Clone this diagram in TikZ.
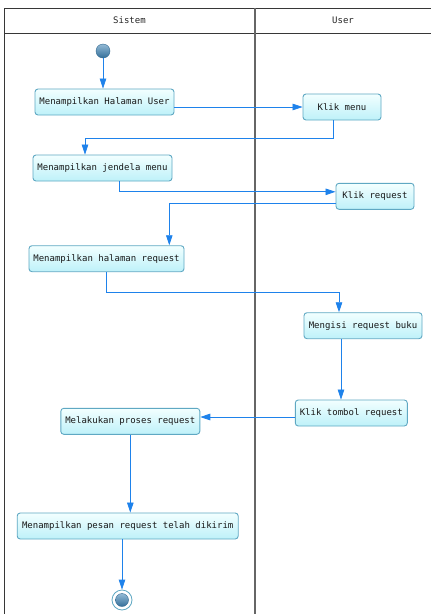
\documentclass[tikz,border=0pt]{standalone}
\usepackage{fontspec}
\setmainfont{DejaVu Sans Mono}
\usetikzlibrary{arrows.meta}
\usetikzlibrary{positioning}

\definecolor{flowblue}{RGB}{30,130,235}
\definecolor{actborder}{RGB}{95,168,195}
\definecolor{acttop}{RGB}{242,255,255}
\definecolor{actbottom}{RGB}{190,241,249}
\definecolor{lanegray}{RGB}{55,55,55}
\definecolor{nodeblue}{RGB}{60,130,180}

\tikzset{
    activity/.style={
        rectangle, rounded corners=3pt,
        draw=actborder, line width=0.9pt,
        top color=acttop, bottom color=actbottom,
        minimum height=26pt, inner xsep=4pt,
        text=black!90, font=\fontsize{9}{10}\selectfont,
    },
    flow/.style={
        draw=flowblue, line width=0.8pt,
        -{Triangle[length=10pt,width=6.5pt]},
    },
    lane/.style={draw=lanegray, line width=0.8pt},
}

\begin{document}
\begin{tikzpicture}[x=1pt, y=-1pt]
        \useasboundingbox (0,0) rectangle (431,614);
        \fill[white] (0,0) rectangle (431,614);

        \draw[lane] (431,8) -- (4,8) -- (4,614);
        \draw[lane] (4,33) -- (431,33);
        \draw[lane, draw=gray!80!black, line width=1.3pt] (255,8) -- (255,614);

        \node (sistem) at(129.5,20.5) [
            font=\fontsize{9}{10}\selectfont, text=black!85,
        ] {Sistem};
        \node (user) at(343,20.5) [
            font=\fontsize{9}{10}\selectfont, text=black!85,
        ] {User};

        \node (start) at(103,51) [
            circle, minimum size=14pt, inner sep=0pt,
            top color=nodeblue!55, bottom color=nodeblue!85!black,
            draw=nodeblue!80!black, thin,
        ] {};

        \node (halamanuser) at(104.5,102) [
            activity, minimum width=139pt,
        ] {Menampilkan Halaman User};
        \node (klikmenu) at(342,107) [
            activity, minimum width=78pt,
        ] {Klik menu};
        \node (jendelamenu) at(102.5,168) [
            activity, minimum width=139pt,
        ] {Menampilkan jendela menu};
        \node (klikrequest) at(375,196.3) [
            activity, minimum width=78pt,
        ] {Klik request};
        \node (halamanrequest) at(106.5,258.7) [
            activity, minimum width=155pt,
        ] {Menampilkan halaman request};
        \node (mengisi) at(363,325.7) [
            activity, minimum width=118pt,
        ] {Mengisi request buku};
        \node (tombol) at(351.3,413) [
            activity, minimum width=112pt,
        ] {Klik tombol request};
        \node (proses) at(130.3,421.3) [
            activity, minimum width=139pt,
        ] {Melakukan proses request};
        \node (pesan) at(127.7,526) [
            activity, minimum width=221pt,
        ] {Menampilkan pesan request telah dikirim};

        \node (finish) at(122,600) [
            circle, minimum size=20pt, inner sep=0pt,
            draw=actborder, line width=0.8pt, fill=white,
        ] {};
        \node (finishdot) at(finish) [
            circle, minimum size=13pt, inner sep=0pt,
            top color=nodeblue!55, bottom color=nodeblue!85!black,
            draw=nodeblue!80!black, thin,
        ] {};

        \coordinate (menuout) at([xshift=-9pt]klikmenu.south);
        \coordinate (requestin) at([yshift=4.5pt]klikrequest.west);
        \coordinate (requestout) at([yshift=-6.7pt]klikrequest.west);
        \coordinate (mengisiout) at([xshift=-22pt]mengisi.south);
        \coordinate (tombolout) at([yshift=-4pt]tombol.west);

        \draw[flow] (start) -- (start |- halamanuser.north);
        \draw[flow] (halamanuser.east |- klikmenu) -- (klikmenu.west);
        \draw[flow] (menuout) -- ++(0,18) -| ([xshift=-17.5pt]jendelamenu.north);
        \draw[flow] ([xshift=16.5pt]jendelamenu.south) |- (requestin);
        \draw[flow] (requestout) -| ([xshift=62.8pt]halamanrequest.north);
        \draw[flow] (halamanrequest.south) -- ++(0,20) -| ([xshift=-24pt]mengisi.north);
        \draw[flow] (mengisiout) -- (mengisiout |- tombol.north);
        \draw[flow] (tombolout) -- (tombolout -| proses.east);
        \draw[flow] (proses.south) -- (proses.south |- pesan.north);
        \draw[flow] (finish |- pesan.south) -- (finish);
    \end{tikzpicture}
\end{document}
